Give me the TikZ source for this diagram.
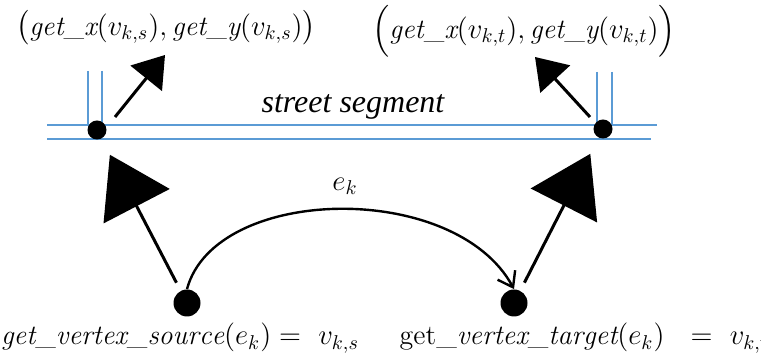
\documentclass[tikz,border=0pt]{standalone}
\usepackage{amsmath}
\usepackage{fontspec}
\usepackage{tikz}
\usetikzlibrary{arrows.meta}
\newfontfamily\streetfont{Liberation Serif}
\definecolor{streetblue}{RGB}{91,155,213}

\begin{document}
\begin{tikzpicture}[x=0.5pt, y=-0.5pt,
    dot/.style={circle, fill=black, inner sep=0pt, minimum size=9.5pt},
    bigdot/.style={circle, fill=black, inner sep=0pt, minimum size=13.5pt},
    street/.style={streetblue, line width=0.6pt},
    mathtext/.style={inner sep=0pt, font=\fontsize{14}{17}\selectfont},
    smallarrow/.style={-{Triangle[length=15pt, width=20pt]}, line width=1.5pt},
    bigarrow/.style={-{Triangle[length=29pt, width=37pt]}, line width=1.5pt, shorten <=4.5pt, shorten >=9pt},
    edgearrow/.style={-{Straight Barb[length=7pt, width=10pt]}, line width=1.2pt}]

\useasboundingbox (0,0) rectangle (761,362);

\draw[street] (47,125) -- (657,125);
\draw[street] (47,139) -- (651,139);
\draw[street] (88,71) -- (88,125);
\draw[street] (102,71) -- (102,125);
\draw[street] (597,72) -- (597,125);
\draw[street] (612,72) -- (612,125);

\node[dot] (vsTop) at (97,130) {};
\node[dot] (vtTop) at (603,129) {};
\node[bigdot] (vs) at (187,303) {};
\node[bigdot] (vt) at (514,303) {};

\node[mathtext] (coordS) at (166,28) {$\bigl(\mathit{get\_x}(v_{k,s}),\mathit{get\_y}(v_{k,s})\bigr)$};
\node[mathtext] (coordT) at (524,31) {$\Bigl(\mathit{get\_x}(v_{k,t}),\mathit{get\_y}(v_{k,t})\Bigr)$};
\node[anchor=base, inner sep=0pt, font=\fontsize{16}{19}\streetfont\itshape] (segment) at (353,113) {street segment};
\node[mathtext] (ek) at (345,186) {$e_k$};
\node[mathtext] (srcText) at (180,338) {$\mathit{get\_vertex\_source}(e_k) =\ v_{k,s}$};
\node[mathtext] (tgtText) at (584,338) {$\mathrm{get}\mathit{\_vertex\_target}(e_k)\ \ =\ v_{k,t}$};

\coordinate (sTail) at (115,117);
\coordinate (sTip) at (165,55);
\coordinate (tTail) at (590,117);
\coordinate (tTip) at (535,57);

\draw[smallarrow] (sTail) -- (sTip);
\draw[smallarrow] (tTail) -- (tTip);
\draw[bigarrow] (vs) -- (vsTop);
\draw[bigarrow] (vt) -- (vtTop);
\draw[edgearrow] (vs.north) .. controls (215,185) and (455,180) .. (vt.north);

\end{tikzpicture}
\end{document}
